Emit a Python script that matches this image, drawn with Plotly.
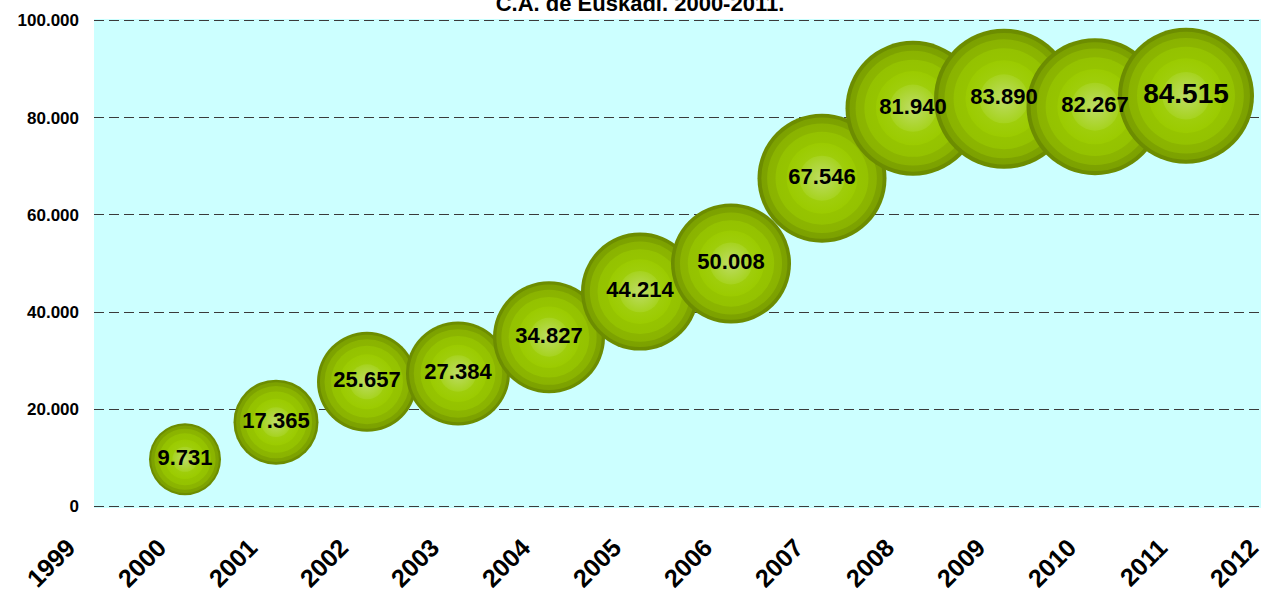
import plotly.graph_objects as go

years = [2000, 2001, 2002, 2003, 2004, 2005, 2006, 2007, 2008, 2009, 2010, 2011]
values = [9731, 17365, 25657, 27384, 34827, 44214, 50008, 67546, 81940, 83890, 82267, 84515]
bubble_size = [72, 85, 100, 104, 112, 118, 120, 129, 135, 140, 137, 136]
label_size = [22, 22, 22, 22, 22, 22, 22, 22, 22, 22, 22, 28]
x_ticks = list(range(1999, 2013))
y_ticks = [0, 20000, 40000, 60000, 80000, 100000]

ring_frac = [1.0, 0.94, 0.85, 0.72, 0.55, 0.35]
ring_col = ["#6c8c00", "#7ca100", "#8ab300", "#94c200", "#9bcb00", "#a6d31e", "#bddc66"]

fig = go.Figure()
for i, yr in enumerate(years):
    for k, f in enumerate(ring_frac):
        fig.add_trace(go.Scatter(
            x=[yr], y=[values[i]], mode="markers", hoverinfo="skip", showlegend=False,
            marker=dict(size=bubble_size[i] * f, sizemode="diameter", color=ring_col[k],
                        line=dict(width=0),
                        gradient=dict(type="radial", color=ring_col[k + 1])),
            cliponaxis=False,
        ))

labels = [f"{v:,}".replace(",", ".") for v in values]
fig.add_trace(go.Scatter(
    x=years, y=values, mode="text", text=labels, textposition="middle center",
    textfont=dict(family="Arial", size=label_size, color="black", weight="bold"),
    hoverinfo="skip", showlegend=False, cliponaxis=False,
))

fig.update_layout(
    width=1280, height=598,
    margin=dict(l=94, r=3, t=19, b=90, autoexpand=False),
    paper_bgcolor="white", plot_bgcolor="#ccffff",
    separators=",.",
    font=dict(family="Arial", color="black"),
    title=dict(text="<b>C.A. de Euskadi. 2000-2011.</b>", x=0.5, xanchor="center",
               xref="container", y=1 - 11 / 598, yanchor="bottom",
               font=dict(size=22, family="Arial", color="black")),
    hovermode=False,
)
fig.update_xaxes(range=[1999, 2012], tickvals=x_ticks, ticktext=[str(t) for t in x_ticks],
                 tickangle=-45, showgrid=False, zeroline=False, showline=False,
                 automargin=False, ticklabelshift=-26, ticklabelstandoff=19,
                 tickfont=dict(size=25, family="Arial", color="black", weight="bold"))
fig.update_yaxes(range=[-300, 100300], tickvals=y_ticks, tickformat=",d",
                 showgrid=True, gridcolor="#3a3a3a", griddash="10px,5px", gridwidth=1,
                 zeroline=False, showline=False, ticklabelstandoff=14, automargin=False,
                 tickfont=dict(size=17, family="Arial", color="black", weight="bold"))

fig.write_html("out.html", config={"displayModeBar": False},
               post_script="document.body.style.margin='0';document.body.style.overflow='hidden';document.documentElement.style.overflow='hidden';")
